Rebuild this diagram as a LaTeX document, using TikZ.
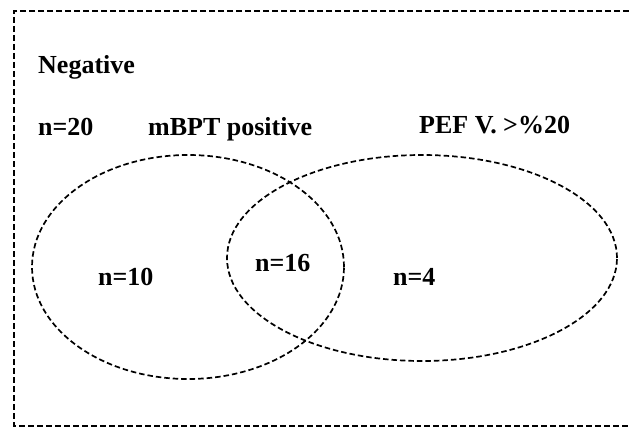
\documentclass[tikz,border=0pt]{standalone}
\usepackage{fontspec}
\setmainfont{Liberation Serif}
\usetikzlibrary{shapes.geometric}
\tikzset{
  frameline/.style={line width=1.8pt, dash pattern=on 6pt off 3pt},
  setline/.style={draw, ellipse, line width=1.7pt, dash pattern=on 5.5pt off 3pt, inner sep=0pt},
  lbl/.style={anchor=base west, inner sep=0pt, font=\fontsize{26}{30}\selectfont\bfseries}
}
\begin{document}
\begin{tikzpicture}[x=1pt,y=-1pt]
\useasboundingbox (0,0) rectangle (629,428);
\draw[frameline] (629,11) -- (14,11) -- (14,426) -- (629,426);
\node[setline, minimum width=312pt, minimum height=224pt] (mbpt) at (188,267) {};
\node[setline, minimum width=390pt, minimum height=206pt] (pef) at (422,258) {};
\node[lbl] (neg) at (38,74) {Negative};
\node[lbl] (n20) at (38,135) {n=20};
\node[lbl] (mbptlbl) at (148,135) {mBPT positive};
\node[lbl] (peflbl) at (419,133) {PEF V. >\%20};
\node[lbl] (n10) at (98,285) {n=10};
\node[lbl] (n16) at (255,271) {n=16};
\node[lbl] (n4) at (393,285) {n=4};
\end{tikzpicture}
\end{document}
